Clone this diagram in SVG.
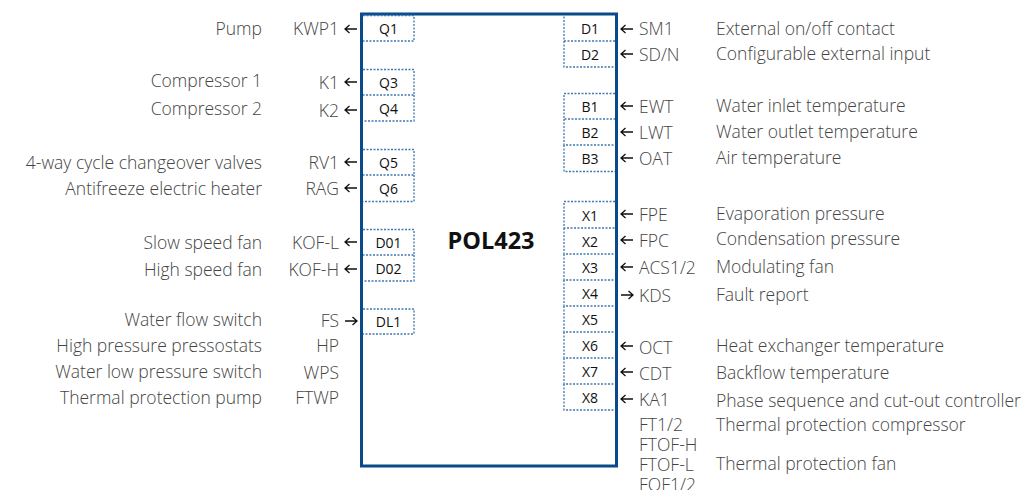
<svg xmlns="http://www.w3.org/2000/svg" width="1025" height="490" viewBox="0 0 1025 490">
<style>
.lbl{font-family:"Open Sans","Noto Sans",sans-serif;font-size:17.5px;fill:#444;dominant-baseline:central;font-weight:300}
.r{text-anchor:end}
.pin{font-family:"Open Sans","Noto Sans",sans-serif;font-size:14px;fill:#111;text-anchor:middle;dominant-baseline:central}
.pb{fill:none;stroke:#3f78b0;stroke-width:1.3;stroke-dasharray:2 1.5}
.ar{fill:none;stroke:#111;stroke-width:1.3}
</style>
<defs>
<path id="la" d="M0 0H12M4.5 -4L0 0L4.5 4"/>
<path id="ra" d="M0 0H12M7.5 -4L12 0L7.5 4"/>
</defs>
<rect width="1025" height="490" fill="#fff"/>
<g id="controller">
<rect x="361.5" y="14" width="255" height="452" fill="#fff" stroke="#0a4a8a" stroke-width="3"/>
<text x="491" y="240" font-family="Open Sans,Noto Sans,sans-serif" font-size="23.5" font-weight="bold" fill="#111" text-anchor="middle" dominant-baseline="central">POL423</text>
</g>
<g id="pins-left">
<g id="Q1"><path class="pb" d="M363 15.5H414V41H363"/><text class="pin" x="388.5" y="28">Q1</text></g>
<g id="Q3"><path class="pb" d="M363 69.5H414V95H363"/><text class="pin" x="388.5" y="82">Q3</text></g>
<g id="Q4"><path class="pb" d="M414 95V121H363"/><text class="pin" x="388.5" y="108">Q4</text></g>
<g id="Q5"><path class="pb" d="M363 149.5H414V175H363"/><text class="pin" x="388.5" y="162">Q5</text></g>
<g id="Q6"><path class="pb" d="M414 175V201.5H363"/><text class="pin" x="388.5" y="188">Q6</text></g>
<g id="D01"><path class="pb" d="M363 229.5H414V255H363"/><text class="pin" x="388.5" y="242">D01</text></g>
<g id="D02"><path class="pb" d="M414 255V281H363"/><text class="pin" x="388.5" y="268">D02</text></g>
<g id="DL1"><path class="pb" d="M363 309H414V334H363"/><text class="pin" x="388.5" y="321.5">DL1</text></g>
</g>
<g id="pins-right">
<g id="D1"><path class="pb" d="M615 41H564V15.5"/><text class="pin" x="590" y="28">D1</text></g>
<g id="D2"><path class="pb" d="M564 41V67H615"/><text class="pin" x="590" y="54">D2</text></g>
<g id="B1"><path class="pb" d="M615 93.5H564V119H615"/><text class="pin" x="590" y="106">B1</text></g>
<g id="B2"><path class="pb" d="M564 119V145H615"/><text class="pin" x="590" y="132">B2</text></g>
<g id="B3"><path class="pb" d="M564 145V171.5H615"/><text class="pin" x="590" y="158">B3</text></g>
<g id="X1"><path class="pb" d="M615 201.5H564V228H615"/><text class="pin" x="590" y="215">X1</text></g>
<g id="X2"><path class="pb" d="M564 228V254H615"/><text class="pin" x="590" y="241">X2</text></g>
<g id="X3"><path class="pb" d="M564 254V280H615"/><text class="pin" x="590" y="267">X3</text></g>
<g id="X4"><path class="pb" d="M564 280V306H615"/><text class="pin" x="590" y="293">X4</text></g>
<g id="X5"><path class="pb" d="M564 306V332H615"/><text class="pin" x="590" y="319">X5</text></g>
<g id="X6"><path class="pb" d="M564 332V358H615"/><text class="pin" x="590" y="345">X6</text></g>
<g id="X7"><path class="pb" d="M564 358V384H615"/><text class="pin" x="590" y="371">X7</text></g>
<g id="X8"><path class="pb" d="M564 384V410H615"/><text class="pin" x="590" y="397">X8</text></g>
</g>
<g id="connectors">
<use href="#la" class="ar" x="345" y="29"/>
<use href="#la" class="ar" x="345" y="82"/>
<use href="#la" class="ar" x="345" y="110"/>
<use href="#la" class="ar" x="345" y="162"/>
<use href="#la" class="ar" x="345" y="188"/>
<use href="#la" class="ar" x="345" y="242"/>
<use href="#la" class="ar" x="345" y="269"/>
<use href="#ra" class="ar" x="345" y="321"/>
<use href="#la" class="ar" x="621" y="29"/>
<use href="#la" class="ar" x="621" y="54"/>
<use href="#la" class="ar" x="621" y="106"/>
<use href="#la" class="ar" x="621" y="132"/>
<use href="#la" class="ar" x="621" y="158"/>
<use href="#la" class="ar" x="621" y="214"/>
<use href="#la" class="ar" x="621" y="240"/>
<use href="#la" class="ar" x="621" y="267"/>
<use href="#ra" class="ar" x="621" y="295"/>
<use href="#la" class="ar" x="621" y="346"/>
<use href="#la" class="ar" x="621" y="372"/>
<use href="#la" class="ar" x="621" y="399"/>
</g>
<g id="left-signals">
<text class="lbl r" x="339" y="28">KWP1</text>
<text class="lbl r" x="339" y="82">K1</text>
<text class="lbl r" x="339" y="110">K2</text>
<text class="lbl r" x="339" y="162">RV1</text>
<text class="lbl r" x="339" y="188">RAG</text>
<text class="lbl r" x="339" y="242">KOF-L</text>
<text class="lbl r" x="339" y="269">KOF-H</text>
<text class="lbl r" x="339" y="320">FS</text>
<text class="lbl r" x="339" y="345">HP</text>
<text class="lbl r" x="339" y="372">WPS</text>
<text class="lbl r" x="339" y="397">FTWP</text>
</g>
<g id="left-descriptions">
<text class="lbl r" x="262" y="28">Pump</text>
<text class="lbl r" x="262" y="80">Compressor 1</text>
<text class="lbl r" x="262" y="108">Compressor 2</text>
<text class="lbl r" x="262" y="162">4-way cycle changeover valves</text>
<text class="lbl r" x="262" y="188">Antifreeze electric heater</text>
<text class="lbl r" x="262" y="242">Slow speed fan</text>
<text class="lbl r" x="262" y="269">High speed fan</text>
<text class="lbl r" x="262" y="319">Water flow switch</text>
<text class="lbl r" x="262" y="345">High pressure pressostats</text>
<text class="lbl r" x="262" y="371">Water low pressure switch</text>
<text class="lbl r" x="262" y="397">Thermal protection pump</text>
</g>
<g id="right-signals">
<text class="lbl" x="639" y="28">SM1</text>
<text class="lbl" x="639" y="54">SD/N</text>
<text class="lbl" x="639" y="106">EWT</text>
<text class="lbl" x="639" y="132">LWT</text>
<text class="lbl" x="639" y="158">OAT</text>
<text class="lbl" x="639" y="214">FPE</text>
<text class="lbl" x="639" y="240">FPC</text>
<text class="lbl" x="639" y="267">ACS1/2</text>
<text class="lbl" x="639" y="295">KDS</text>
<text class="lbl" x="639" y="347">OCT</text>
<text class="lbl" x="639" y="373">CDT</text>
<text class="lbl" x="639" y="399">KA1</text>
<text class="lbl" x="639" y="424">FT1/2</text>
<text class="lbl" x="639" y="444">FTOF-H</text>
<text class="lbl" x="639" y="464">FTOF-L</text>
<text class="lbl" x="639" y="484">FOF1/2</text>
</g>
<g id="right-descriptions">
<text class="lbl" x="716" y="28">External on/off contact</text>
<text class="lbl" x="716" y="53">Configurable external input</text>
<text class="lbl" x="716" y="105">Water inlet temperature</text>
<text class="lbl" x="716" y="131">Water outlet temperature</text>
<text class="lbl" x="716" y="157">Air temperature</text>
<text class="lbl" x="716" y="213">Evaporation pressure</text>
<text class="lbl" x="716" y="238">Condensation pressure</text>
<text class="lbl" x="716" y="266">Modulating fan</text>
<text class="lbl" x="716" y="294">Fault report</text>
<text class="lbl" x="716" y="345">Heat exchanger temperature</text>
<text class="lbl" x="716" y="372">Backflow temperature</text>
<text class="lbl" x="716" y="400">Phase sequence and cut-out controller</text>
<text class="lbl" x="716" y="424">Thermal protection compressor</text>
<text class="lbl" x="716" y="463">Thermal protection fan</text>
</g>
</svg>
